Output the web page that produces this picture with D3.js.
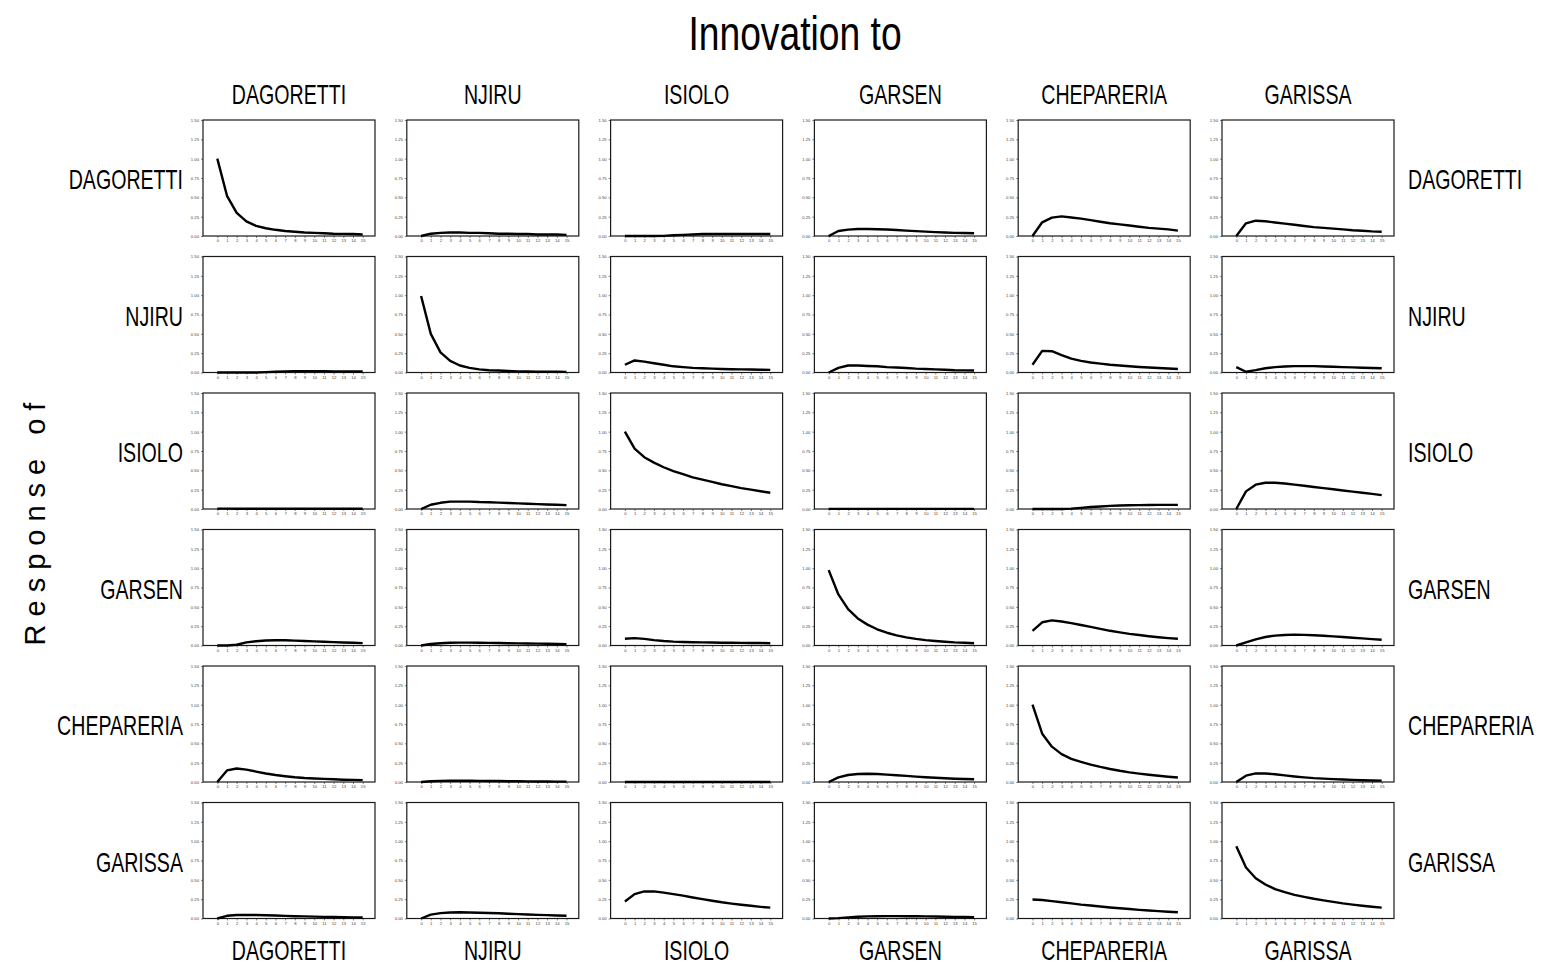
<!DOCTYPE html>
<html>
<head>
<meta charset="utf-8">
<script src="https://cdn.jsdelivr.net/npm/d3@7"></script>
<style>
  html, body { margin: 0; padding: 0; background: #fff; }
  svg { display: block; }
  .lbl { font-family: "Liberation Sans", Arial, sans-serif; fill: #000; }
  .tick text { font-family: "Liberation Sans", Arial, sans-serif; }
</style>
</head>
<body>
<svg id="chart" width="1549" height="966"></svg>
<script>
// Variables of the VAR system (order of rows = responses, columns = innovations)
const names = ["DAGORETTI", "NJIRU", "ISIOLO", "GARSEN", "CHEPARERIA", "GARISSA"];
const horizons = d3.range(0, 16);
const yTicks = [0, 0.25, 0.5, 0.75, 1.0, 1.25, 1.5];

// Impulse responses, one row per responding variable; each row holds
// the response to an innovation in DAGORETTI, NJIRU, ISIOLO, GARSEN, CHEPARERIA, GARISSA
const respDagoretti = [
  [1.00, 0.52, 0.30, 0.19, 0.13, 0.10, 0.08, 0.065, 0.055, 0.045, 0.04, 0.035, 0.03, 0.028, 0.025, 0.02],
  [0, 0.03, 0.04, 0.045, 0.045, 0.04, 0.04, 0.035, 0.03, 0.03, 0.025, 0.025, 0.02, 0.02, 0.02, 0.015],
  [0, 0, 0, 0, 0.002, 0.01, 0.015, 0.02, 0.025, 0.025, 0.025, 0.025, 0.025, 0.025, 0.025, 0.025],
  [0, 0.065, 0.082, 0.09, 0.09, 0.088, 0.085, 0.078, 0.07, 0.063, 0.057, 0.05, 0.045, 0.04, 0.038, 0.035],
  [0, 0.177, 0.237, 0.254, 0.24, 0.225, 0.205, 0.185, 0.165, 0.15, 0.135, 0.12, 0.105, 0.095, 0.085, 0.07],
  [0, 0.164, 0.198, 0.19, 0.175, 0.16, 0.145, 0.13, 0.115, 0.105, 0.095, 0.085, 0.075, 0.068, 0.06, 0.055]
];
const respNjiru = [
  [0, 0, 0, 0, 0, 0.005, 0.01, 0.015, 0.018, 0.018, 0.017, 0.016, 0.015, 0.014, 0.013, 0.012],
  [0.99, 0.50, 0.26, 0.15, 0.09, 0.06, 0.04, 0.03, 0.025, 0.02, 0.015, 0.012, 0.01, 0.01, 0.01, 0.008],
  [0.10, 0.156, 0.14, 0.12, 0.10, 0.08, 0.07, 0.06, 0.055, 0.05, 0.045, 0.042, 0.04, 0.038, 0.036, 0.034],
  [0, 0.06, 0.09, 0.09, 0.085, 0.08, 0.07, 0.065, 0.058, 0.05, 0.045, 0.04, 0.035, 0.03, 0.028, 0.025],
  [0.10, 0.28, 0.275, 0.225, 0.18, 0.15, 0.13, 0.115, 0.10, 0.09, 0.08, 0.072, 0.065, 0.058, 0.052, 0.045],
  [0.07, 0.01, 0.03, 0.055, 0.07, 0.078, 0.082, 0.083, 0.082, 0.078, 0.075, 0.07, 0.066, 0.062, 0.058, 0.054]
];
const respIsiolo = [
  [0.005, 0.005, 0.004, 0.003, 0.003, 0.003, 0.003, 0.003, 0.003, 0.003, 0.003, 0.003, 0.003, 0.003, 0.004, 0.004],
  [0, 0.055, 0.08, 0.095, 0.095, 0.095, 0.09, 0.088, 0.083, 0.078, 0.073, 0.068, 0.063, 0.058, 0.055, 0.05],
  [1.00, 0.78, 0.67, 0.60, 0.54, 0.49, 0.45, 0.41, 0.38, 0.35, 0.32, 0.295, 0.27, 0.25, 0.23, 0.21],
  [0.002, 0.002, 0.002, 0.002, 0.002, 0.002, 0.002, 0.002, 0.002, 0.002, 0.002, 0.002, 0.002, 0.002, 0.002, 0.002],
  [0, 0, 0, 0, 0.005, 0.015, 0.025, 0.033, 0.04, 0.045, 0.048, 0.05, 0.052, 0.053, 0.053, 0.053],
  [0, 0.228, 0.315, 0.34, 0.34, 0.33, 0.315, 0.30, 0.285, 0.27, 0.255, 0.24, 0.225, 0.21, 0.195, 0.18]
];
const respGarsen = [
  [0, 0, 0.01, 0.04, 0.055, 0.065, 0.068, 0.067, 0.063, 0.058, 0.053, 0.048, 0.043, 0.039, 0.035, 0.031],
  [0, 0.02, 0.03, 0.035, 0.037, 0.037, 0.036, 0.034, 0.032, 0.03, 0.028, 0.026, 0.024, 0.022, 0.02, 0.018],
  [0.087, 0.095, 0.085, 0.07, 0.058, 0.05, 0.045, 0.042, 0.04, 0.038, 0.036, 0.035, 0.034, 0.033, 0.032, 0.03],
  [0.975, 0.66, 0.47, 0.35, 0.27, 0.21, 0.165, 0.13, 0.105, 0.085, 0.07, 0.058, 0.048, 0.04, 0.035, 0.03],
  [0.19, 0.30, 0.325, 0.31, 0.29, 0.265, 0.24, 0.215, 0.19, 0.17, 0.15, 0.135, 0.12, 0.107, 0.096, 0.087],
  [0, 0.04, 0.08, 0.11, 0.128, 0.136, 0.14, 0.138, 0.133, 0.126, 0.118, 0.11, 0.1, 0.092, 0.083, 0.075]
];
const respChepareria = [
  [0, 0.15, 0.175, 0.16, 0.135, 0.11, 0.09, 0.075, 0.062, 0.052, 0.045, 0.04, 0.035, 0.03, 0.027, 0.024],
  [0, 0.01, 0.015, 0.017, 0.017, 0.016, 0.015, 0.013, 0.012, 0.01, 0.009, 0.008, 0.007, 0.006, 0.005, 0.005],
  [0, 0, 0, 0, 0, 0, 0, 0, 0, 0, 0, 0, 0, 0, 0, 0],
  [0, 0.06, 0.09, 0.103, 0.107, 0.103, 0.096, 0.088, 0.079, 0.07, 0.062, 0.055, 0.048, 0.042, 0.038, 0.035],
  [1.00, 0.625, 0.457, 0.36, 0.30, 0.26, 0.225, 0.195, 0.168, 0.145, 0.125, 0.108, 0.093, 0.08, 0.068, 0.058],
  [0, 0.082, 0.112, 0.11, 0.1, 0.085, 0.072, 0.06, 0.05, 0.043, 0.037, 0.032, 0.027, 0.023, 0.02, 0.018]
];
const respGarissa = [
  [0, 0.035, 0.045, 0.047, 0.045, 0.042, 0.038, 0.034, 0.03, 0.027, 0.024, 0.021, 0.019, 0.017, 0.015, 0.013],
  [0, 0.05, 0.07, 0.078, 0.08, 0.078, 0.075, 0.071, 0.067, 0.062, 0.057, 0.052, 0.047, 0.043, 0.039, 0.035],
  [0.22, 0.315, 0.35, 0.35, 0.335, 0.315, 0.295, 0.272, 0.25, 0.23, 0.21, 0.193, 0.178, 0.164, 0.151, 0.14],
  [0, 0.005, 0.015, 0.022, 0.027, 0.03, 0.031, 0.031, 0.03, 0.029, 0.027, 0.025, 0.023, 0.021, 0.019, 0.017],
  [0.245, 0.24, 0.225, 0.21, 0.195, 0.18, 0.168, 0.155, 0.143, 0.132, 0.122, 0.112, 0.103, 0.095, 0.087, 0.08],
  [0.935, 0.66, 0.52, 0.44, 0.38, 0.34, 0.305, 0.28, 0.255, 0.235, 0.215, 0.195, 0.18, 0.165, 0.152, 0.14]
];
const responses = [respDagoretti, respNjiru, respIsiolo, respGarsen, respChepareria, respGarissa];

// Layout of the 6x6 grid of panels
const gridLeft = 203, gridTop = 120;
const colStep = 203.8, rowStep = 136.5;
const panelW = 172, panelH = 116;

const svg = d3.select("#chart");

const x = d3.scaleLinear().domain([0, 15]).range([14.3, 159.7]);
const y = d3.scaleLinear().domain([0, 1.5]).range([panelH, 0]);

const line = d3.line()
  .x((d, i) => x(horizons[i]))
  .y(d => y(d));

// Condensed label: regular sans squeezed horizontally
function narrowLabel(px, py, anchor, size, squeeze, str) {
  svg.append("g")
    .attr("transform", `translate(${px},${py}) scale(${squeeze},1)`)
    .append("text").attr("class", "lbl")
    .attr("text-anchor", anchor)
    .attr("font-size", size)
    .text(str);
}

// Titles
narrowLabel(795, 50, "middle", 49, 0.76, "Innovation to");

svg.append("text").attr("class", "lbl")
  .attr("transform", "translate(45,520) rotate(-90)")
  .attr("text-anchor", "middle")
  .attr("font-size", 29)
  .attr("letter-spacing", 8)
  .text("Response of");

const squeeze = 0.70;
names.forEach((n, c) => {
  const cx = gridLeft + c * colStep + panelW / 2;
  narrowLabel(cx, 104, "middle", 28, squeeze, n);
  narrowLabel(cx, 960, "middle", 28, squeeze, n);
});

names.forEach((n, r) => {
  const cy = gridTop + r * rowStep + panelH / 2 + 11;
  narrowLabel(183, cy, "end", 28, squeeze, n);
  narrowLabel(1408, cy, "start", 28, squeeze, n);
});

// Panels
responses.forEach((row, r) => {
  row.forEach((series, c) => {
    const g = svg.append("g")
      .attr("transform", `translate(${gridLeft + c * colStep},${gridTop + r * rowStep})`);

    const yAxis = d3.axisLeft(y).tickValues(yTicks)
      .tickFormat(d3.format(".2f")).tickSize(2).tickPadding(2);
    const gy = g.append("g").attr("opacity", 0.99).call(yAxis);
    gy.select(".domain").remove();
    gy.selectAll(".tick line").attr("stroke", "#333").attr("stroke-width", 0.6);
    gy.selectAll(".tick text").attr("font-size", 4.2).attr("fill", "#444");

    const xAxis = d3.axisBottom(x).tickValues(horizons)
      .tickFormat(d3.format("d")).tickSize(2).tickPadding(1.5);
    const gx = g.append("g").attr("opacity", 0.99)
      .attr("transform", `translate(0,${panelH})`).call(xAxis);
    gx.select(".domain").remove();
    gx.selectAll(".tick line").attr("stroke", "#333").attr("stroke-width", 0.6);
    gx.selectAll(".tick text").attr("font-size", 4.2).attr("fill", "#444");

    g.append("rect")
      .attr("width", panelW).attr("height", panelH)
      .attr("fill", "none").attr("stroke", "#1a1a1a").attr("stroke-width", 1.2);

    g.append("path")
      .datum(series)
      .attr("d", line)
      .attr("fill", "none")
      .attr("stroke", "#000")
      .attr("stroke-width", 2.4)
      .attr("stroke-linejoin", "round");
  });
});
</script>
</body>
</html>
